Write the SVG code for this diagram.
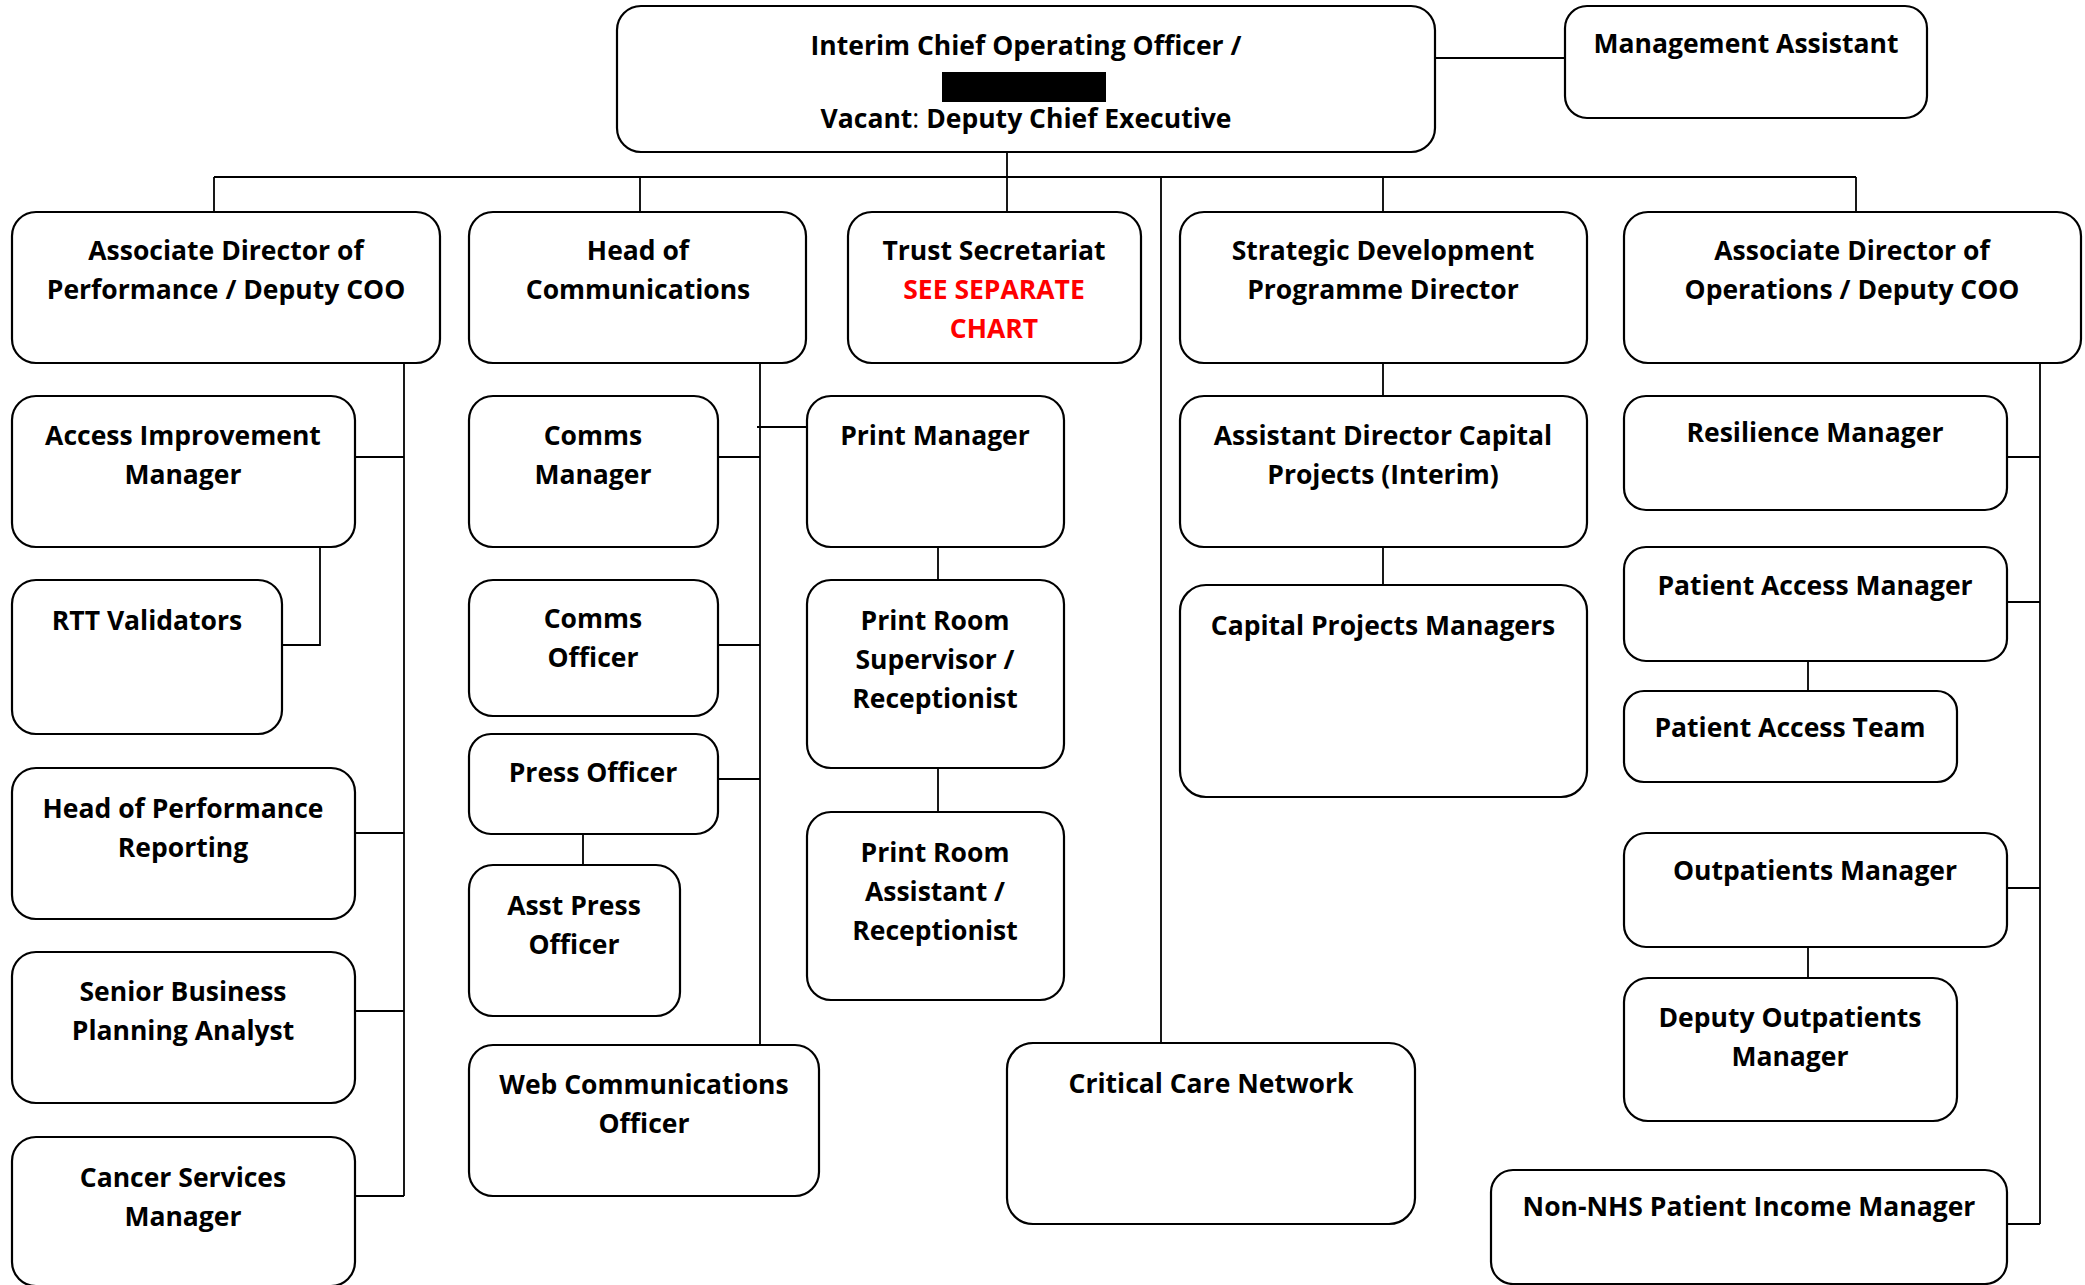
<svg xmlns="http://www.w3.org/2000/svg" width="2085" height="1285" viewBox="0 0 2085 1285">
<style>
.b{fill:#fff;stroke:#000;stroke-width:2.2}
.c{fill:none;stroke:#000;stroke-width:1.8}
text{font-family:"Open Sans","Liberation Sans",sans-serif;font-weight:700;font-size:26.5px;text-anchor:middle;fill:#000}
.r{fill:#f00}
</style>
<rect width="2085" height="1285" fill="#fff"/>
<g id="connectors">
<path class="c" d="M1435 58H1565M1007 152V177M214 177H1856M214 177V212M640 177V212M1007 177V212M1383 177V212M1856 177V212M1161 177V1043"/>
<path class="c" d="M404 363V1196M355 457H404M355 833H404M355 1011H404M355 1196H404M320 547V645H282"/>
<path class="c" d="M760 363V1045M718 457H760M718 645H760M718 779H760M757 427H807M583 834V865"/>
<path class="c" d="M938 547V580M938 768V812M1383 363V396M1383 547V585"/>
<path class="c" d="M2040 363V1224M2007 457H2040M2007 602H2040M2007 888H2040M2007 1224H2040M1808 661V691M1808 947V978"/>
</g>
<g id="coo"><rect class="b" x="617" y="6" width="818" height="146" rx="24"/><text x="1026" y="55">Interim Chief Operating Officer /</text><rect x="942" y="72" width="164" height="30" fill="#000"/><text x="1026" y="128">Vacant<tspan font-weight="400">:</tspan> Deputy Chief Executive</text></g>
<g id="ma"><rect class="b" x="1565" y="6" width="362" height="112" rx="22"/><text x="1746" y="53">Management Assistant</text></g>
<g id="adp"><rect class="b" x="12" y="212" width="428" height="151" rx="24"/><text x="226" y="260">Associate Director of</text><text x="226" y="299">Performance / Deputy COO</text></g>
<g id="hoc"><rect class="b" x="469" y="212" width="337" height="151" rx="24"/><text x="638" y="260">Head of</text><text x="638" y="299">Communications</text></g>
<g id="ts"><rect class="b" x="848" y="212" width="293" height="151" rx="24"/><text x="994" y="260">Trust Secretariat</text><text class="r" x="994" y="299">SEE SEPARATE</text><text class="r" x="994" y="338">CHART</text></g>
<g id="sdp"><rect class="b" x="1180" y="212" width="407" height="151" rx="24"/><text x="1383" y="260">Strategic Development</text><text x="1383" y="299">Programme Director</text></g>
<g id="ado"><rect class="b" x="1624" y="212" width="457" height="151" rx="24"/><text x="1852" y="260">Associate Director of</text><text x="1852" y="299">Operations / Deputy COO</text></g>
<g id="aim"><rect class="b" x="12" y="396" width="343" height="151" rx="24"/><text x="183" y="445">Access Improvement</text><text x="183" y="484">Manager</text></g>
<g id="rtt"><rect class="b" x="12" y="580" width="270" height="154" rx="24"/><text x="147" y="630">RTT Validators</text></g>
<g id="hpr"><rect class="b" x="12" y="768" width="343" height="151" rx="24"/><text x="183" y="818">Head of Performance</text><text x="183" y="857">Reporting</text></g>
<g id="sbpa"><rect class="b" x="12" y="952" width="343" height="151" rx="24"/><text x="183" y="1001">Senior Business</text><text x="183" y="1040">Planning Analyst</text></g>
<g id="csm"><rect class="b" x="12" y="1137" width="343" height="149" rx="24"/><text x="183" y="1187">Cancer Services</text><text x="183" y="1226">Manager</text></g>
<g id="cm"><rect class="b" x="469" y="396" width="249" height="151" rx="24"/><text x="593" y="445">Comms</text><text x="593" y="484">Manager</text></g>
<g id="co"><rect class="b" x="469" y="580" width="249" height="136" rx="24"/><text x="593" y="628">Comms</text><text x="593" y="667">Officer</text></g>
<g id="po"><rect class="b" x="469" y="734" width="249" height="100" rx="22"/><text x="593" y="782">Press Officer</text></g>
<g id="apo"><rect class="b" x="469" y="865" width="211" height="151" rx="24"/><text x="574" y="915">Asst Press</text><text x="574" y="954">Officer</text></g>
<g id="wco"><rect class="b" x="469" y="1045" width="350" height="151" rx="24"/><text x="644" y="1094">Web Communications</text><text x="644" y="1133">Officer</text></g>
<g id="pm"><rect class="b" x="807" y="396" width="257" height="151" rx="24"/><text x="935" y="445">Print Manager</text></g>
<g id="prs"><rect class="b" x="807" y="580" width="257" height="188" rx="24"/><text x="935" y="630">Print Room</text><text x="935" y="669">Supervisor /</text><text x="935" y="708">Receptionist</text></g>
<g id="pra"><rect class="b" x="807" y="812" width="257" height="188" rx="24"/><text x="935" y="862">Print Room</text><text x="935" y="901">Assistant /</text><text x="935" y="940">Receptionist</text></g>
<g id="ccn"><rect class="b" x="1007" y="1043" width="408" height="181" rx="26"/><text x="1211" y="1093">Critical Care Network</text></g>
<g id="adc"><rect class="b" x="1180" y="396" width="407" height="151" rx="24"/><text x="1383" y="445">Assistant Director Capital</text><text x="1383" y="484">Projects (Interim)</text></g>
<g id="cpm"><rect class="b" x="1180" y="585" width="407" height="212" rx="26"/><text x="1383" y="635">Capital Projects Managers</text></g>
<g id="rm"><rect class="b" x="1624" y="396" width="383" height="114" rx="22"/><text x="1815" y="442">Resilience Manager</text></g>
<g id="pam"><rect class="b" x="1624" y="547" width="383" height="114" rx="22"/><text x="1815" y="595">Patient Access Manager</text></g>
<g id="pat"><rect class="b" x="1624" y="691" width="333" height="91" rx="20"/><text x="1790" y="737">Patient Access Team</text></g>
<g id="om"><rect class="b" x="1624" y="833" width="383" height="114" rx="22"/><text x="1815" y="880">Outpatients Manager</text></g>
<g id="dom"><rect class="b" x="1624" y="978" width="333" height="143" rx="24"/><text x="1790" y="1027">Deputy Outpatients</text><text x="1790" y="1066">Manager</text></g>
<g id="nnh"><rect class="b" x="1491" y="1170" width="516" height="114" rx="22"/><text x="1749" y="1216">Non-NHS Patient Income Manager</text></g>
</svg>
